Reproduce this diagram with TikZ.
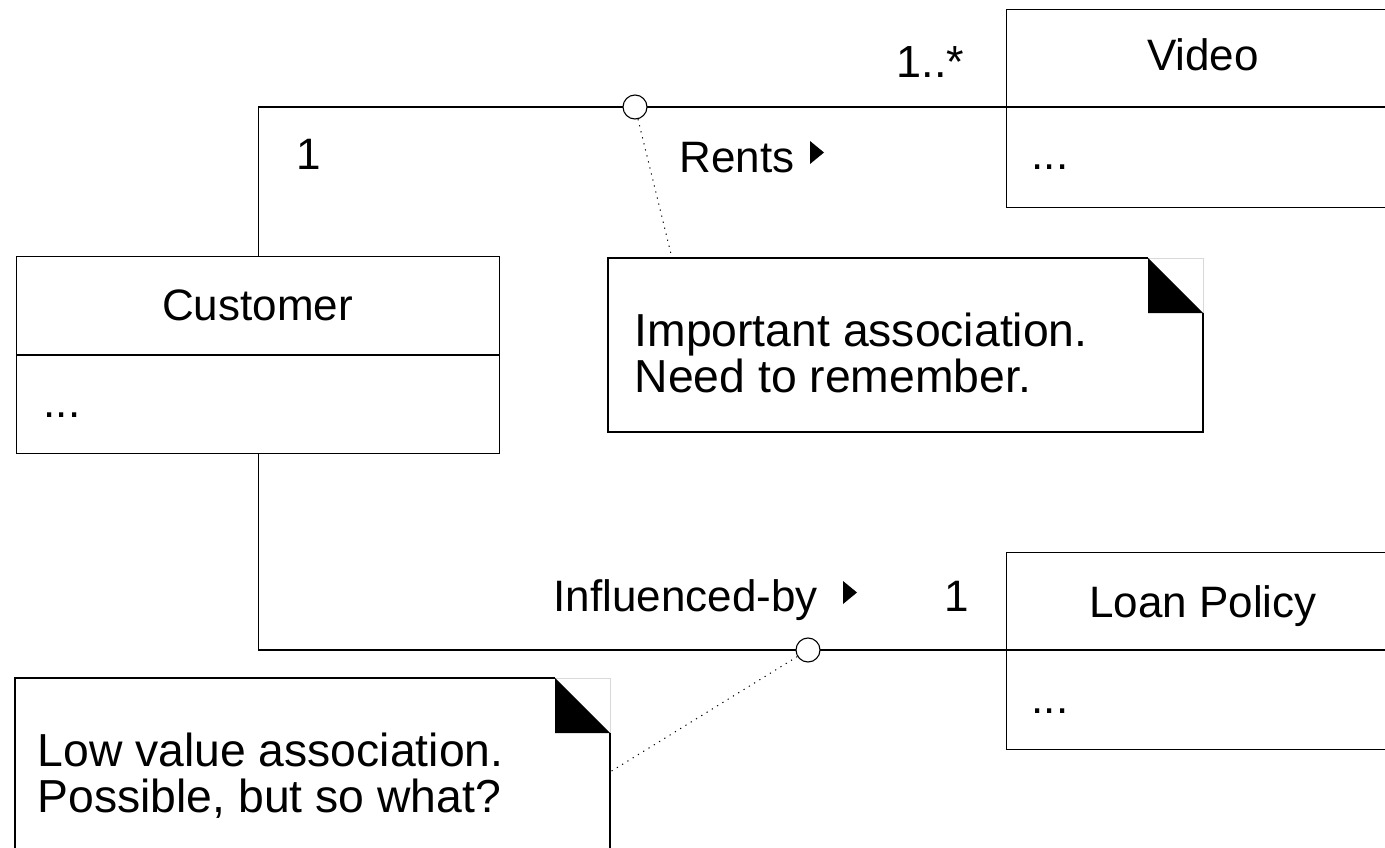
\documentclass[tikz,border=0pt]{standalone}
\usepackage{fontspec}
\setmainfont{Liberation Sans}
\begin{document}
\begin{tikzpicture}[x=1pt,y=-1pt,line width=1.3pt,
  txt/.style={inner sep=0pt,anchor=base west,font=\fontsize{44}{50}\selectfont},
  ntxt/.style={inner sep=0pt,anchor=base west,font=\fontsize{46.3}{50}\selectfont},
  ctxt/.style={inner sep=0pt,anchor=base,font=\fontsize{44}{50}\selectfont},
  classbox/.style={draw,inner sep=0pt,anchor=north west},
  roleball/.style={circle,draw,fill=white,inner sep=0pt,minimum size=24pt,line width=1.1pt},
  notelink/.style={line width=1pt,dash pattern=on 1.2pt off 5pt},
  dirtri/.style={fill=black,draw=none}]
\useasboundingbox (0,0) rectangle (1385,848);
\clip (0,0) rectangle (1385,848);
% class boxes
\node[classbox,minimum width=394pt,minimum height=198pt] (video) at (1006,9) {};
\node[classbox,minimum width=483pt,minimum height=197pt] (cust) at (16,256) {};
\node[classbox,minimum width=394pt,minimum height=197pt] (loan) at (1006,552) {};
\coordinate (vdiv) at (1006,107);
\coordinate (ldiv) at (1006,650);
\draw (vdiv) -- (1400,107);
\draw (16,355) -- (499,355);
\draw (ldiv) -- (1400,650);
\node[ctxt] (videoname) at (1203,71) {Video};
\node[txt] (videoattr) at (1031,170) {...};
\node[ctxt] (custname) at (257.5,320) {Customer};
\node[txt] (custattr) at (43,417) {...};
\node[ctxt] (loanname) at (1203,617) {Loan Policy};
\node[txt] (loanattr) at (1031,713) {...};
% associations
\draw (cust.north) |- (vdiv);
\draw (cust.south) |- (ldiv);
\node[roleball] (ball1) at (635,107) {};
\node[roleball] (ball2) at (808,650) {};
% labels
\node[txt] (m1) at (296,170) {1};
\node[txt,font=\fontsize{45}{50}\selectfont] (m2) at (896,78) {1..*};
\node[txt] (rents) at (679,172) {Rents};
\fill[dirtri] (810,141) -- (810,164) -- (824,152.5) -- cycle;
\node[txt] (infl) at (553,611) {Influenced-by};
\fill[dirtri] (843,581) -- (843,604) -- (857,592.5) -- cycle;
\node[txt] (m3) at (944,611) {1};
% note 1
\node[inner sep=0pt,anchor=north west,minimum width=595pt,minimum height=174pt] (note1) at (608,258) {};
\draw[black!15,line width=0.8pt] (1148,258) -- (1203,258) -- (1203,313);
\draw (1148,258) -- (608,258) -- (608,432) -- (1203,432) -- (1203,313);
\fill (1148,258) -- (1148,313) -- (1203,313) -- cycle;
\node[ntxt] (n1l1) at (634,346) {Important association.};
\node[ntxt] (n1l2) at (634,392) {Need to remember.};
\coordinate (n1a) at (672,258);
\draw[notelink] (ball1) -- (n1a);
% note 2
\node[inner sep=0pt,anchor=north west,minimum width=595pt,minimum height=200pt] (note2) at (15,678) {};
\draw[black!15,line width=0.8pt] (555,678) -- (610,678) -- (610,733);
\draw (555,678) -- (15,678) -- (15,900);
\draw (610,733) -- (610,900);
\fill (555,678) -- (555,733) -- (610,733) -- cycle;
\node[ntxt] (n2l1) at (37,766) {Low value association.};
\node[ntxt] (n2l2) at (37,812) {Possible, but so what?};
\coordinate (n2a) at (610,772);
\draw[notelink] (ball2) -- (n2a);
\end{tikzpicture}
\end{document}
